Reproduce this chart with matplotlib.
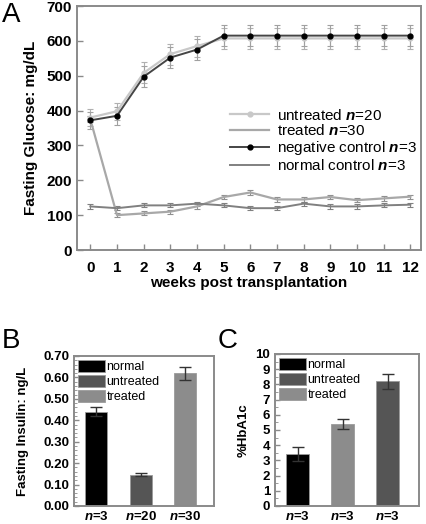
import matplotlib
matplotlib.use('agg')
import matplotlib.pyplot as plt
from matplotlib.lines import Line2D
from matplotlib.ticker import MultipleLocator, FormatStrFormatter

plt.rcParams['font.family'] = ['Liberation Sans', 'DejaVu Sans']
plt.rcParams['mathtext.fontset'] = 'custom'
plt.rcParams['mathtext.it'] = 'Liberation Sans:italic:bold'
plt.rcParams['mathtext.rm'] = 'Liberation Sans'

# panel A data: fasting glucose (mg/dL) over weeks
weeks = [0, 1, 2, 3, 4, 5, 6, 7, 8, 9, 10, 11, 12]
untreated = [380, 398, 508, 562, 585, 607, 607, 607, 607, 607, 607, 607, 607]
treated = [375, 100, 105, 110, 125, 152, 165, 145, 145, 152, 143, 148, 153]
neg_control = [372, 385, 497, 552, 575, 615, 615, 615, 615, 615, 615, 615, 615]
normal_control = [125, 120, 128, 128, 133, 128, 120, 120, 133, 125, 125, 128, 130]
err_high = [25, 25, 30, 30, 30, 30, 30, 30, 30, 30, 30, 30, 30]
err_low = [8, 6, 6, 6, 6, 6, 6, 6, 6, 6, 6, 6, 6]

# panel B data: fasting insulin (ng/L)
b_groups = ['normal', 'untreated', 'treated']
b_labels = ['$n$=3', '$n$=20', '$n$=30']
b_values = [0.44, 0.145, 0.62]
b_errors = [0.02, 0.007, 0.03]

# panel C data: %HbA1c (bars in order normal, treated, untreated)
c_groups = ['normal', 'treated', 'untreated']
c_labels = ['$n$=3', '$n$=3', '$n$=3']
c_values = [3.4, 5.4, 8.2]
c_errors = [0.45, 0.35, 0.5]

W, H = 426, 524
fig = plt.figure(figsize=(W / 100, H / 100), dpi=100)


def px_axes(left, right, top, bottom):
    return fig.add_axes([left / W, 1 - bottom / H, (right - left) / W, (bottom - top) / H])


def style_axes(ax):
    for s in ax.spines.values():
        s.set_color('#8a8a8a')
        s.set_linewidth(1.4)
    ax.tick_params(direction='in', colors='#8a8a8a', labelcolor='black', width=1)
    ax.tick_params(which='minor', direction='in', colors='#8a8a8a', length=2)


# ---- panel A ----
axA = px_axes(77, 421, 6, 250)
style_axes(axA)
ebkw = dict(elinewidth=0.8, capsize=2, capthick=0.8)
sty_u = dict(color='#c8c8c8', marker='o', ms=3.5, lw=1.6)
sty_t = dict(color='#a8a8a8', lw=1.6)
sty_n = dict(color='#454545', marker='o', ms=3.5, mfc='black', mec='black', lw=1.4)
sty_c = dict(color='#808080', lw=1.4)
axA.errorbar(weeks, untreated, yerr=err_high, ecolor='#b0b0b0', **sty_u, **ebkw)
axA.errorbar(weeks, treated, yerr=err_low, ecolor='#909090', **sty_t, **ebkw)
axA.errorbar(weeks, neg_control, yerr=err_high, ecolor='#a0a0a0', **sty_n, **ebkw)
axA.errorbar(weeks, normal_control, yerr=err_low, ecolor='#808080', **sty_c, **ebkw)
axA.set_xlim(-0.5, 12.4)
axA.set_ylim(0, 700)
axA.set_xticks(weeks)
axA.yaxis.set_major_locator(MultipleLocator(100))
axA.tick_params(axis='both', labelsize=11, length=4)
for lab in axA.get_xticklabels() + axA.get_yticklabels():
    lab.set_fontweight('bold')
axA.tick_params(axis='x', pad=8)
axA.set_xlabel('weeks post transplantation', fontsize=11, fontweight='bold', labelpad=1)
axA.set_ylabel('Fasting Glucose: mg/dL', fontsize=11, fontweight='bold', labelpad=6)
handles = [Line2D([], [], **sty_u), Line2D([], [], **sty_t),
           Line2D([], [], **sty_n), Line2D([], [], **sty_c)]
labels = ['untreated $n$=20', 'treated $n$=30', 'negative control $n$=3', 'normal control $n$=3']
axA.legend(handles, labels, loc='upper left', bbox_to_anchor=(222 / W, 1 - 100 / H),
           bbox_transform=fig.transFigure, frameon=False, fontsize=11, numpoints=1,
           handlelength=2.6, handletextpad=0.5, labelspacing=0.05, borderpad=0)
fig.text(2 / W, 1 - 2 / H, 'A', fontsize=20, va='top', ha='left')

# ---- panel B ----
axB = px_axes(74, 214, 356, 506)
style_axes(axB)
b_colors = ['#000000', '#555555', '#8c8c8c']
xb = range(len(b_values))
bars = axB.bar(xb, b_values, width=0.5, color=b_colors, edgecolor='#9a9a9a', linewidth=0.6,
               yerr=b_errors, capsize=4, error_kw=dict(ecolor='#333333', elinewidth=1, capthick=1))
axB.set_xlim(-0.5, 2.65)
axB.set_ylim(0, 0.7)
axB.yaxis.set_major_locator(MultipleLocator(0.1))
axB.yaxis.set_minor_locator(MultipleLocator(0.02))
axB.yaxis.set_major_formatter(FormatStrFormatter('%.2f'))
axB.set_xticks(list(xb))
axB.set_xticklabels(b_labels)
axB.tick_params(axis='x', length=0, pad=3)
axB.tick_params(axis='both', labelsize=9.5)
for lab in axB.get_xticklabels() + axB.get_yticklabels():
    lab.set_fontweight('bold')
axB.set_ylabel('Fasting Insulin: ng/L', fontsize=9.5, fontweight='bold', labelpad=10)
legkw = dict(loc='upper left', frameon=False, fontsize=9, handlelength=2.2, handleheight=1.15,
             handletextpad=0.1, labelspacing=0.12, borderpad=0.15, borderaxespad=0.15)
axB.legend(bars, b_groups, **legkw)
fig.text(2 / W, 1 - 328 / H, 'B', fontsize=20, va='top', ha='left')

# ---- panel C ----
axC = px_axes(275, 419, 354, 506)
style_axes(axC)
c_colors = ['#000000', '#8c8c8c', '#555555']
xc = range(len(c_values))
barsC = axC.bar(xc, c_values, width=0.5, color=c_colors, edgecolor='#9a9a9a', linewidth=0.6,
                yerr=c_errors, capsize=4, error_kw=dict(ecolor='#333333', elinewidth=1, capthick=1))
axC.set_xlim(-0.5, 2.7)
axC.set_ylim(0, 10)
axC.yaxis.set_major_locator(MultipleLocator(1))
axC.yaxis.set_minor_locator(MultipleLocator(0.5))
axC.set_xticks(list(xc))
axC.set_xticklabels(c_labels)
axC.tick_params(axis='x', length=0, pad=3)
axC.tick_params(axis='both', labelsize=9.5)
for lab in axC.get_xticklabels() + axC.get_yticklabels():
    lab.set_fontweight('bold')
axC.set_ylabel('%HbA1c', fontsize=9.5, fontweight='bold', labelpad=4)
axC.legend([barsC[0], barsC[2], barsC[1]], ['normal', 'untreated', 'treated'], **legkw)
fig.text(218 / W, 1 - 328 / H, 'C', fontsize=20, va='top', ha='left')

fig.savefig('out.png', dpi=100)
